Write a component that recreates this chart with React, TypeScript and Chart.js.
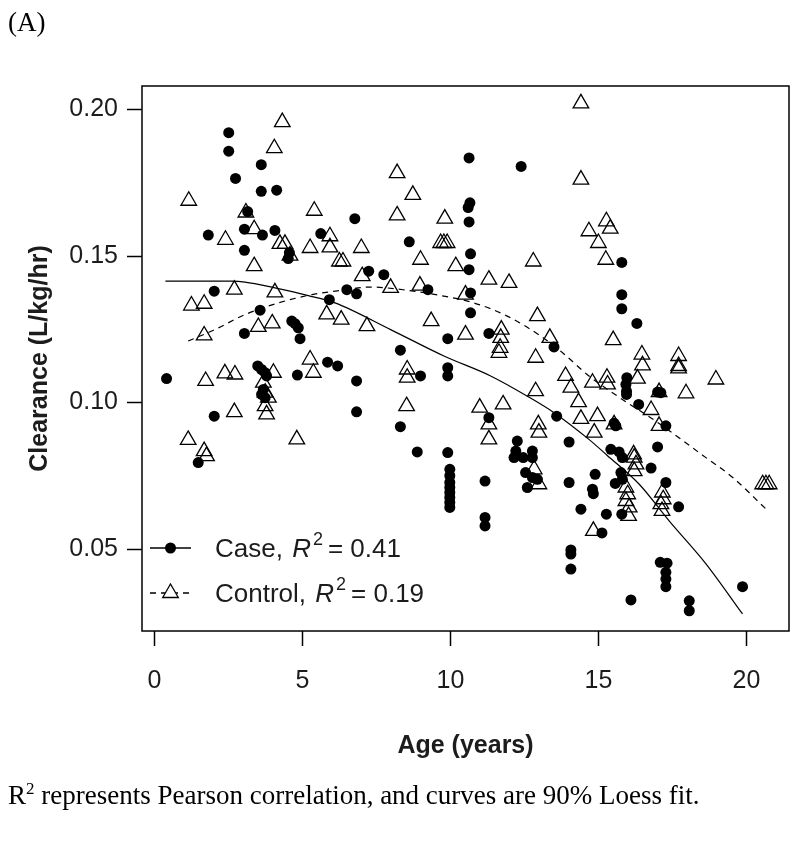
import React, { useEffect, useRef } from "react";
import { Chart, registerables } from "chart.js";
Chart.register(...registerables);

// ---- data (age in years, clearance in L/kg/hr) ----
const caseData: [number, number][] = [
  [2.52, 0.1919], [2.52, 0.1856], [3.62, 0.181], [2.75, 0.1763], [3.62, 0.1719], [4.14, 0.1723],
  [3.16, 0.165], [3.05, 0.159], [4.08, 0.1586], [3.66, 0.157], [1.83, 0.157], [5.63, 0.1575],
  [3.05, 0.1518], [4.57, 0.151], [4.53, 0.149],
  [10.64, 0.1833], [12.4, 0.1804], [10.67, 0.168], [10.61, 0.1664], [6.78, 0.1626], [10.64, 0.1615],
  [8.62, 0.1547], [10.69, 0.1506], [10.64, 0.1452], [7.25, 0.1447], [7.76, 0.1435],
  [2.03, 0.1379], [3.58, 0.1314], [3.05, 0.1235], [4.65, 0.1277], [4.76, 0.1268], [4.87, 0.1254],
  [4.93, 0.1217], [5.92, 0.135], [6.51, 0.1384], [0.42, 0.1081], [3.5, 0.1124], [3.63, 0.1112],
  [3.75, 0.1101], [3.8, 0.109], [3.69, 0.1044], [3.63, 0.1027], [3.75, 0.1016], [4.84, 0.1093],
  [5.86, 0.1137], [6.2, 0.1124], [2.03, 0.0953],
  [6.84, 0.137], [9.25, 0.1384], [10.69, 0.1373], [10.69, 0.1305], [9.92, 0.1217], [11.31, 0.1235],
  [13.51, 0.1189], [8.32, 0.1178], [9.92, 0.1118], [9.92, 0.109], [9.0, 0.109], [6.84, 0.1073],
  [6.84, 0.0968], [8.32, 0.0917], [11.31, 0.0948], [13.6, 0.0953], [8.89, 0.0831], [9.92, 0.0829],
  [12.27, 0.0868], [12.22, 0.0834], [12.78, 0.0834],
  [15.8, 0.1367], [15.8, 0.1319], [16.31, 0.1269], [15.97, 0.1084], [15.94, 0.1061], [15.96, 0.1038],
  [15.96, 0.1027], [17.01, 0.1035], [17.12, 0.1033], [16.37, 0.0993], [15.54, 0.0929], [15.6, 0.092],
  [17.29, 0.092], [14.02, 0.0865], [17.01, 0.0848], [15.43, 0.084], [15.71, 0.0831], [15.8, 0.1477],
  [1.49, 0.0795],
  [9.99, 0.0772], [9.99, 0.075], [9.99, 0.0727], [9.99, 0.071], [9.99, 0.0693], [9.99, 0.0676],
  [9.99, 0.0659], [9.99, 0.0642], [11.18, 0.0732], [11.18, 0.0608], [11.18, 0.0579],
  [12.16, 0.0812], [12.47, 0.0812], [12.78, 0.0812], [12.55, 0.0761], [12.78, 0.0744], [12.95, 0.0738],
  [12.61, 0.071],
  [14.02, 0.0727], [14.9, 0.0755], [14.81, 0.0704], [14.84, 0.0689], [14.42, 0.0636], [15.28, 0.0619],
  [15.8, 0.0619], [15.13, 0.0555], [14.08, 0.0497], [14.08, 0.0483], [14.08, 0.0432], [16.79, 0.0776],
  [17.29, 0.0727], [17.72, 0.0644], [15.82, 0.0812], [15.77, 0.0761], [15.58, 0.0724], [15.82, 0.0738],
  [17.1, 0.0455], [17.33, 0.0452], [17.29, 0.0421], [17.29, 0.0398], [17.29, 0.0372], [16.11, 0.0327],
  [18.08, 0.0324], [18.08, 0.029], [19.88, 0.0372],
];

const controlData: [number, number][] = [
  [4.33, 0.1955], [4.06, 0.1866], [1.17, 0.1687], [5.41, 0.1653], [3.1, 0.1647], [3.38, 0.159],
  [2.41, 0.1554], [4.25, 0.154], [4.42, 0.154], [5.27, 0.1526], [5.94, 0.1566], [5.94, 0.1528],
  [6.26, 0.148], [3.38, 0.1464], [4.59, 0.15],
  [8.21, 0.1781], [8.74, 0.1707], [8.21, 0.1637], [9.82, 0.1626], [9.68, 0.1543], [9.79, 0.1543],
  [9.9, 0.1543], [7.0, 0.1526], [6.38, 0.148], [9.0, 0.1486], [10.19, 0.1464], [12.81, 0.148],
  [14.42, 0.2019], [14.42, 0.1759], [15.28, 0.1617], [15.41, 0.1592], [14.69, 0.1583], [15.01, 0.1543],
  [15.26, 0.1486],
  [2.71, 0.1384], [4.08, 0.1375], [1.26, 0.133], [1.69, 0.1336], [1.69, 0.1228], [3.52, 0.1257],
  [3.99, 0.1269], [5.83, 0.13], [6.32, 0.1282], [5.27, 0.1146], [5.38, 0.1101], [1.74, 0.1073],
  [2.39, 0.1099], [2.73, 0.1095], [3.69, 0.1067], [3.75, 0.1033], [3.86, 0.1016], [3.75, 0.0987],
  [3.8, 0.0959], [2.71, 0.0967], [4.03, 0.1101], [1.15, 0.0872], [1.69, 0.0834], [4.82, 0.0874],
  [7.03, 0.143], [7.99, 0.139], [8.98, 0.1398], [10.52, 0.1367], [11.31, 0.1418], [11.99, 0.1407],
  [12.95, 0.1294], [9.36, 0.1277], [7.19, 0.126], [10.52, 0.1231], [11.73, 0.1248], [11.71, 0.122],
  [11.69, 0.1186], [11.65, 0.1169], [13.37, 0.122], [12.89, 0.1152], [8.55, 0.1112], [8.55, 0.1084],
  [12.89, 0.1038], [8.53, 0.0987], [11.0, 0.0982], [11.79, 0.0993], [11.31, 0.0925], [11.31, 0.0874],
  [12.98, 0.0925], [13.0, 0.0897],
  [15.51, 0.1212], [16.48, 0.1163], [16.5, 0.1126], [17.72, 0.1158], [17.72, 0.1124], [17.72, 0.1116],
  [18.98, 0.1078], [13.9, 0.109], [14.08, 0.105], [14.34, 0.1001], [14.81, 0.1067], [15.3, 0.1084],
  [15.32, 0.1061], [16.33, 0.1081], [17.06, 0.1035], [17.97, 0.1031], [16.79, 0.0974], [14.42, 0.0944],
  [14.98, 0.0953], [15.54, 0.0925], [14.87, 0.0897], [17.06, 0.092], [16.2, 0.0823],
  [1.77, 0.0817], [12.84, 0.0772], [13.0, 0.0721],
  [16.22, 0.0812], [16.28, 0.0789], [16.22, 0.0766], [15.94, 0.071], [16.0, 0.0687], [15.94, 0.0664],
  [16.05, 0.0642], [16.03, 0.0613], [17.17, 0.0693], [17.2, 0.067], [17.12, 0.0653], [17.16, 0.063],
  [14.84, 0.0562], [20.56, 0.0721], [20.67, 0.0721], [20.78, 0.0721],
];

// loess curves
const caseLoess: [number, number][] = [
  [0.38, 0.1413], [2.62, 0.1413], [3.07, 0.141], [4.08, 0.139], [5.21, 0.1364], [6.11, 0.1339],
  [7.99, 0.1248], [9.79, 0.1158], [11.37, 0.109], [12.61, 0.1021], [13.51, 0.0965], [14.69, 0.0874],
  [15.3, 0.082], [16.39, 0.0721], [17.4, 0.0596], [18.65, 0.0449], [19.88, 0.0279],
];
const controlLoess: [number, number][] = [
  [1.15, 0.1209], [2.05, 0.1248], [3.07, 0.1299], [4.2, 0.1339], [5.33, 0.1367], [6.34, 0.1382],
  [7.31, 0.1393], [8.55, 0.1382], [9.68, 0.1364], [10.8, 0.1339], [11.93, 0.1294], [13.06, 0.1226],
  [13.8, 0.1169], [14.69, 0.109], [15.82, 0.101], [16.95, 0.0936], [18.53, 0.082], [19.55, 0.0744],
  [20.68, 0.0636],
];

const xTicks = [0, 5, 10, 15, 20];
const yTicks = [0.05, 0.1, 0.15, 0.2];
const yTickLabels = ["0.05", "0.10", "0.15", "0.20"];
const legendLabels = ["Case", "Control"];
const legendR2 = ["0.41", "0.19"];

const SANS = '"Liberation Sans", Arial, sans-serif';
const TEXT = "#1c1c1c";

const rAxesPlugin = {
  id: "rAxes",
  afterDraw(chart: any) {
    const { ctx, chartArea: a, scales } = chart;
    const xs = scales.x;
    const ys = scales.y;
    ctx.save();
    ctx.strokeStyle = "#000";
    ctx.lineWidth = 1.5;
    ctx.strokeRect(a.left, a.top, a.right - a.left, a.bottom - a.top);

    ctx.fillStyle = TEXT;
    ctx.font = `25px ${SANS}`;
    // x axis ticks
    ctx.textAlign = "center";
    ctx.textBaseline = "middle";
    xTicks.forEach((v) => {
      const px = Math.round(xs.getPixelForValue(v)) + 0.5;
      ctx.beginPath();
      ctx.moveTo(px, a.bottom);
      ctx.lineTo(px, a.bottom + 15);
      ctx.stroke();
      ctx.fillText(String(v), px, a.bottom + 50);
    });
    // y axis ticks
    ctx.textAlign = "right";
    yTicks.forEach((v, i) => {
      const py = Math.round(ys.getPixelForValue(v)) + 0.5;
      ctx.beginPath();
      ctx.moveTo(a.left, py);
      ctx.lineTo(a.left - 15, py);
      ctx.stroke();
      ctx.fillText(yTickLabels[i], a.left - 24, py);
    });

    // axis titles
    ctx.font = `bold 25px ${SANS}`;
    ctx.textAlign = "center";
    ctx.fillText("Age (years)", (a.left + a.right) / 2, a.bottom + 115);
    ctx.save();
    ctx.translate(40, (a.top + a.bottom) / 2);
    ctx.rotate(-Math.PI / 2);
    ctx.fillText("Clearance (L/kg/hr)", 0, 0);
    ctx.restore();

    // legend
    const lx0 = a.left + 8;
    const lx1 = a.left + 49;
    const rows = [a.bottom - 83, a.bottom - 38];
    rows.forEach((ry, i) => {
      ctx.strokeStyle = "#000";
      ctx.lineWidth = 1.3;
      ctx.setLineDash(i === 0 ? [] : [6, 5]);
      ctx.beginPath();
      ctx.moveTo(lx0, ry);
      ctx.lineTo(lx1, ry);
      ctx.stroke();
      ctx.setLineDash([]);
      const cx = (lx0 + lx1) / 2;
      if (i === 0) {
        ctx.fillStyle = "#000";
        ctx.beginPath();
        ctx.arc(cx, ry, 5.5, 0, Math.PI * 2);
        ctx.fill();
      } else {
        const r = 9;
        ctx.fillStyle = "#fff";
        ctx.beginPath();
        ctx.moveTo(cx, ry - r);
        ctx.lineTo(cx + r * 0.866, ry + r * 0.5);
        ctx.lineTo(cx - r * 0.866, ry + r * 0.5);
        ctx.closePath();
        ctx.fill();
        ctx.stroke();
      }
      ctx.fillStyle = TEXT;
      ctx.textAlign = "left";
      ctx.textBaseline = "alphabetic";
      const base = ry + 9;
      let tx = a.left + 73;
      ctx.font = `26px ${SANS}`;
      const t1 = legendLabels[i] + ", ";
      ctx.fillText(t1, tx, base);
      tx += ctx.measureText(t1).width + 2;
      ctx.font = `italic 26px ${SANS}`;
      ctx.fillText("R", tx, base);
      tx += ctx.measureText("R").width + 2;
      ctx.font = `18px ${SANS}`;
      ctx.fillText("2", tx, base - 12);
      tx += ctx.measureText("2").width + 5;
      ctx.font = `26px ${SANS}`;
      ctx.fillText("= " + legendR2[i], tx, base);
    });
    ctx.restore();
  },
};

export default function App() {
  const ref = useRef<HTMLCanvasElement | null>(null);
  useEffect(() => {
    if (!ref.current) return;
    const chart = new Chart(ref.current, {
      type: "scatter",
      data: {
        datasets: [
          {
            label: "Case loess",
            type: "line",
            data: caseLoess.map(([x, y]) => ({ x, y })),
            borderColor: "#000",
            borderWidth: 1.2,
            pointRadius: 0,
            fill: false,
            cubicInterpolationMode: "monotone",
            order: 1,
          } as any,
          {
            label: "Control loess",
            type: "line",
            data: controlLoess.map(([x, y]) => ({ x, y })),
            borderColor: "#000",
            borderWidth: 1.2,
            borderDash: [6, 5],
            pointRadius: 0,
            fill: false,
            cubicInterpolationMode: "monotone",
            order: 2,
          } as any,
          {
            label: "Case",
            data: caseData.map(([x, y]) => ({ x, y })),
            pointStyle: "circle",
            pointRadius: 5.5,
            backgroundColor: "#000",
            borderColor: "#000",
            borderWidth: 0,
            order: 3,
          },
          {
            label: "Control",
            data: controlData.map(([x, y]) => ({ x, y })),
            pointStyle: "triangle",
            pointRadius: 9,
            backgroundColor: "rgba(0,0,0,0)",
            borderColor: "#000",
            borderWidth: 1.3,
            order: 4,
          },
        ],
      },
      options: {
        animation: false,
        responsive: false,
        devicePixelRatio: 1,
        layout: { padding: { left: 142, top: 86, right: 11, bottom: 216 } },
        plugins: { legend: { display: false }, tooltip: { enabled: false } },
        scales: {
          x: { type: "linear", min: -0.41, max: 21.45, display: false },
          y: { type: "linear", min: 0.0221, max: 0.2078, display: false },
        },
      },
      plugins: [rAxesPlugin],
    });
    return () => chart.destroy();
  }, []);

  return (
    <div style={{ position: "absolute", left: 0, top: 0, width: 800, height: 847, background: "#fff" }}>
      <canvas ref={ref} width={800} height={847} style={{ position: "absolute", left: 0, top: 0 }} />
      <div
        style={{
          position: "absolute",
          left: 8,
          top: 7,
          fontFamily: '"Liberation Serif", "Times New Roman", serif',
          fontSize: 27,
          lineHeight: "30px",
          color: "#000",
        }}
      >
        (A)
      </div>
      <div
        style={{
          position: "absolute",
          left: 8,
          top: 779,
          fontFamily: '"Liberation Serif", "Times New Roman", serif',
          fontSize: 27,
          lineHeight: "32px",
          color: "#000",
          whiteSpace: "nowrap",
        }}
      >
        R<sup style={{ fontSize: 17, lineHeight: 0 }}>2</sup> represents Pearson correlation, and curves are 90% Loess fit.
      </div>
    </div>
  );
}
